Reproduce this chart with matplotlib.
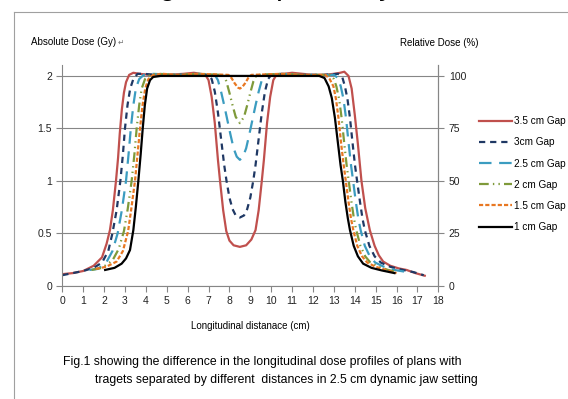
import matplotlib
matplotlib.use("Agg")
import matplotlib.pyplot as plt
from matplotlib.lines import Line2D

plt.rcParams['font.family'] = ['Liberation Sans', 'DejaVu Sans']
plt.rcParams['lines.scale_dashes'] = False

# dose profiles (x in cm, y in Gy)
x_35 = [0, 0.5, 1.0, 1.5, 1.9, 2.12, 2.28, 2.42, 2.57, 2.67, 2.75, 2.85, 2.95, 3.05, 3.2, 3.4,
        3.7, 4.2, 5.0, 5.8, 6.3, 6.6, 6.85, 7.0, 7.15, 7.3, 7.45, 7.55, 7.7, 7.85, 8.0, 8.2,
        8.5, 8.8, 9.05, 9.25, 9.4, 9.55, 9.65, 9.8, 9.95, 10.1, 10.25, 10.6, 11.0, 11.5, 12.0,
        12.5, 13.0, 13.3, 13.5, 13.7, 13.85, 14.0, 14.15, 14.32, 14.5, 14.72, 14.95, 15.15,
        15.36, 15.7, 16.1, 16.48, 16.9, 17.35]
y_35 = [0.11, 0.12, 0.14, 0.19, 0.27, 0.40, 0.53, 0.72, 1.00, 1.22, 1.45, 1.68, 1.84, 1.94, 2.01, 2.03,
        2.02, 2.01, 2.01, 2.02, 2.03, 2.02, 2.01, 1.96, 1.80, 1.55, 1.20, 1.00, 0.72, 0.52, 0.43, 0.385,
        0.37, 0.385, 0.44, 0.53, 0.72, 1.00, 1.20, 1.55, 1.80, 1.96, 2.01, 2.02, 2.03, 2.02, 2.01,
        2.01, 2.02, 2.03, 2.04, 2.00, 1.88, 1.63, 1.35, 1.00, 0.74, 0.53, 0.38, 0.29,
        0.23, 0.19, 0.165, 0.15, 0.12, 0.095]

x_30 = [0, 0.5, 1.0, 1.5, 1.9, 2.2, 2.4, 2.6, 2.78, 2.9, 3.0, 3.12, 3.25, 3.4, 3.6, 3.9, 4.5,
        5.5, 6.5, 7.0, 7.15, 7.3, 7.45, 7.6, 7.75, 7.86, 8.0, 8.15, 8.3, 8.5, 8.7, 8.85, 9.0,
        9.14, 9.25, 9.4, 9.55, 9.7, 9.85, 10.0, 10.5, 11.5, 12.5, 13.2, 13.4, 13.53, 13.65,
        13.77, 13.9, 14.01, 14.11, 14.25, 14.37, 14.48, 14.7, 14.95, 15.25, 15.7, 16.3, 16.8, 17.3]
y_30 = [0.10, 0.12, 0.14, 0.17, 0.22, 0.33, 0.50, 0.72, 1.00, 1.25, 1.50, 1.72, 1.88, 1.97, 2.02, 2.02, 2.01,
        2.01, 2.02, 2.01, 1.97, 1.85, 1.65, 1.40, 1.15, 1.00, 0.84, 0.73, 0.67, 0.65, 0.67, 0.73, 0.84,
        1.00, 1.15, 1.40, 1.65, 1.85, 1.97, 2.01, 2.02, 2.01, 2.01, 2.02, 1.99, 1.90, 1.78,
        1.60, 1.35, 1.15, 1.00, 0.80, 0.64, 0.53, 0.38, 0.28, 0.22, 0.18, 0.15, 0.13, 0.10]

x_25 = [1.3, 1.7, 2.1, 2.4, 2.65, 2.85, 3.05, 3.17, 3.28, 3.4, 3.52, 3.68, 3.9, 4.3, 5.5, 6.5,
        7.3, 7.45, 7.6, 7.75, 7.9, 8.05, 8.2, 8.35, 8.5, 8.65, 8.8, 8.95, 9.1, 9.25, 9.4, 9.55,
        9.7, 10.5, 11.5, 12.5, 13.0, 13.2, 13.33, 13.46, 13.58, 13.71, 13.82, 13.92, 14.05,
        14.17, 14.28, 14.48, 14.72, 14.98, 15.4, 15.9, 16.5]
y_25 = [0.15, 0.16, 0.22, 0.33, 0.50, 0.72, 1.00, 1.25, 1.50, 1.72, 1.88, 1.97, 2.01, 2.02, 2.01, 2.02,
        2.01, 1.96, 1.85, 1.72, 1.58, 1.44, 1.31, 1.23, 1.20, 1.23, 1.31, 1.44, 1.58, 1.72, 1.85, 1.96,
        2.01, 2.02, 2.01, 2.01, 2.01, 1.98, 1.90, 1.78, 1.60, 1.35, 1.15, 1.00, 0.80,
        0.64, 0.53, 0.38, 0.28, 0.22, 0.18, 0.15, 0.13]

x_20 = [1.4, 1.9, 2.4, 2.7, 2.95, 3.13, 3.32, 3.45, 3.56, 3.68, 3.8, 3.96, 4.2, 4.6, 5.5, 6.5,
        7.7, 7.85, 8.0, 8.15, 8.3, 8.5, 8.7, 8.85, 9.0, 9.15, 9.3, 10.5, 11.5, 12.5, 12.8, 13.0,
        13.12, 13.25, 13.37, 13.5, 13.61, 13.71, 13.84, 13.96, 14.07, 14.27, 14.5, 14.75,
        15.15, 15.6, 16.05]
y_20 = [0.15, 0.17, 0.24, 0.35, 0.52, 0.73, 1.00, 1.25, 1.50, 1.72, 1.88, 1.97, 2.01, 2.02, 2.01, 2.02,
        2.01, 1.95, 1.84, 1.72, 1.61, 1.55, 1.61, 1.72, 1.84, 1.95, 2.01, 2.02, 2.01, 2.01, 2.01, 1.97,
        1.90, 1.78, 1.60, 1.35, 1.15, 1.00, 0.80, 0.64, 0.53, 0.38, 0.28, 0.22,
        0.18, 0.15, 0.13]

x_15 = [1.6, 2.1, 2.6, 2.9, 3.15, 3.3, 3.48, 3.6, 3.72, 3.84, 3.97, 4.12, 4.35, 4.8, 5.5, 6.5,
        7.95, 8.1, 8.25, 8.4, 8.5, 8.6, 8.75, 8.9, 9.05, 10.5, 11.5, 12.3, 12.6, 12.8, 12.98,
        13.1, 13.22, 13.35, 13.47, 13.57, 13.7, 13.82, 13.93, 14.12, 14.35, 14.6, 15.0, 15.5, 16.0]
y_15 = [0.16, 0.18, 0.23, 0.33, 0.52, 0.73, 1.00, 1.25, 1.50, 1.72, 1.88, 1.97, 2.01, 2.02, 2.01, 2.02,
        2.01, 1.98, 1.93, 1.89, 1.88, 1.89, 1.93, 1.98, 2.01, 2.02, 2.01, 2.01, 2.01, 1.97, 1.90,
        1.78, 1.60, 1.35, 1.15, 1.00, 0.80, 0.64, 0.53, 0.38, 0.28, 0.22, 0.18, 0.15, 0.12]

x_10 = [2.05, 2.5, 2.84, 3.05, 3.24, 3.4, 3.52, 3.64, 3.75, 3.85, 3.95, 4.06, 4.2, 4.35, 4.7,
        6.0, 8.0, 10.0, 12.3, 12.55, 12.75, 12.9, 13.05, 13.2, 13.32, 13.43, 13.55, 13.67, 13.77,
        13.95, 14.15, 14.4, 14.8, 15.3, 15.9]
y_10 = [0.15, 0.17, 0.21, 0.26, 0.34, 0.53, 0.75, 1.00, 1.25, 1.50, 1.72, 1.88, 1.96, 1.99, 2.00,
        2.00, 2.00, 2.00, 2.00, 1.98, 1.90, 1.79, 1.60, 1.35, 1.15, 1.00, 0.80, 0.64, 0.53,
        0.38, 0.28, 0.21, 0.17, 0.145, 0.12]

labels = ['3.5 cm Gap', '3cm Gap', '2.5 cm Gap', '2 cm Gap', '1.5 cm Gap', '1 cm Gap']
colors = ['#C0504D', '#1F3864', '#3B9CC0', '#7F9A3A', '#E87722', '#000000']
styles = ['-', (0, (4.5, 3.5)), (0, (9, 5.5)), (0, (7, 3, 1, 3, 1, 3)), (0, (3, 1.5)), '-']
xs = [x_35, x_30, x_25, x_20, x_15, x_10]
ys = [y_35, y_30, y_25, y_20, y_15, y_10]

fig = plt.figure(figsize=(5.68, 3.99), dpi=100)
ax = fig.add_axes([0.1097, 0.284, 0.662, 0.552])

for x, y, c, ls, lab in zip(xs, ys, colors, styles, labels):
    ax.plot(x, y, color=c, linestyle=ls, linewidth=1.6, label=lab)

grey = '#868686'
ax.set_xlim(0, 18)
ax.set_ylim(0, 2.1)
ax.set_xticks(range(0, 19))
ax.set_yticks([0, 0.5, 1, 1.5, 2])
ax.set_yticklabels(['0', '0.5', '1', '1.5', '2'])
ax.grid(axis='y', color=grey, linewidth=0.8)
ax.set_axisbelow(True)
ax.spines['top'].set_visible(False)
for s in ['left', 'right', 'bottom']:
    ax.spines[s].set_color(grey)
ax.tick_params(axis='both', colors=grey, labelcolor='#222222', labelsize=7.5, length=4, width=0.8)

ax2 = ax.twinx()
ax2.set_ylim(0, 105)
ax2.set_yticks([0, 25, 50, 75, 100])
for s in ['top', 'left', 'bottom']:
    ax2.spines[s].set_visible(False)
ax2.spines['right'].set_color(grey)
ax2.tick_params(axis='y', colors=grey, labelcolor='#222222', labelsize=7.5, length=4, width=0.8)

ax.set_xlabel('Longitudinal distanace (cm)', fontsize=7, labelpad=11)

t = fig.text(0.054, 0.895, 'Absolute Dose (Gy)', fontsize=7, va='center', ha='left')
ax.annotate('\u21b5', xy=(1, 0.5), xycoords=t, xytext=(1, 0), textcoords='offset points',
            fontsize=5.5, va='center', ha='left', color='#777777', family='DejaVu Sans')
fig.text(0.705, 0.892, 'Relative Dose (%)', fontsize=7, va='center', ha='left')

ax.legend(loc='upper left', bbox_to_anchor=(0.843, 0.709), bbox_transform=fig.transFigure,
          frameon=False, fontsize=7.2, handlelength=3.3, handletextpad=0.2,
          labelspacing=1.12, borderpad=0, borderaxespad=0)

fig.text(0.111, 0.093, 'Fig.1 showing the difference in the longitudinal dose profiles of plans with',
         fontsize=8.8, va='center', ha='left')
fig.text(0.167, 0.047, 'tragets separated by different  distances in 2.5 cm dynamic jaw setting',
         fontsize=8.8, va='center', ha='left')

# cut-off line of the surrounding document and the chart frame
fig.text(0.0, 1.014, 'between targets, respectively.', fontsize=22, va='baseline', ha='left')
fig.add_artist(Line2D([0.0238, 0.0238], [0, 0.971], transform=fig.transFigure, color='#a0a0a0', lw=0.8))
fig.add_artist(Line2D([0.0238, 1.0], [0.971, 0.971], transform=fig.transFigure, color='#a0a0a0', lw=0.8))

fig.savefig('out.png', dpi=100)
